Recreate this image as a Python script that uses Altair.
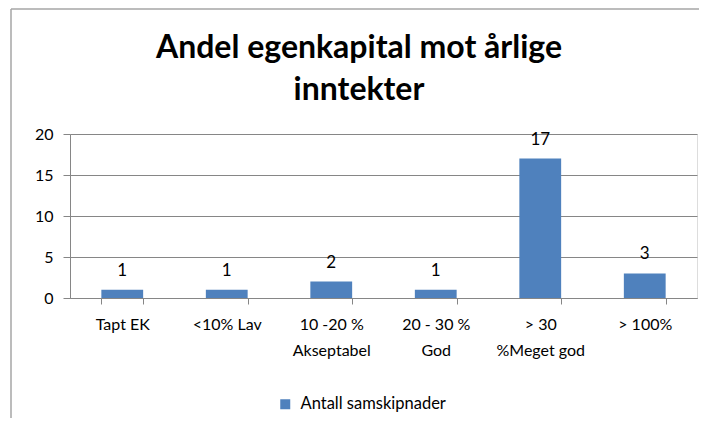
import altair as alt
import pandas as pd

categories = ["Tapt EK", "<10% Lav", "10 -20 %|Akseptabel", "20 - 30 %|God", "> 30|%Meget god", "> 100%"]
values = [1, 1, 2, 1, 17, 3]
series_name = "Antall samskipnader"
title_text = "Andel egenkapital mot årlige|inntekter"
y_ticks = [0, 5, 10, 15, 20]

df = pd.DataFrame({"kategori": categories, "antall": values, "serie": [series_name] * len(values)})

FONT = "Lato"
GRAY = "#868686"
BLUE = "#4F81BD"

x_enc = alt.X(
    "kategori:N",
    sort=categories,
    title=None,
    scale=alt.Scale(paddingInner=0.6, paddingOuter=0.3),
    axis=alt.Axis(
        labelAngle=0,
        labelExpr="split(datum.label, '|')",
        labelLineHeight=26,
        labelFontSize=16,
        labelFont=FONT,
        labelColor="black",
        labelPadding=12,
        labelBaseline="top",
        tickBand="extent",
        tickSize=6,
        tickColor=GRAY,
        domainColor=GRAY,
        grid=False,
    ),
)

y_enc = alt.Y(
    "antall:Q",
    title=None,
    scale=alt.Scale(domain=[0, 20], nice=False),
    axis=alt.Axis(
        values=y_ticks,
        labelFontSize=16,
        labelFont=FONT,
        labelColor="black",
        labelPadding=10,
        tickSize=7,
        tickColor=GRAY,
        domainColor=GRAY,
        gridColor=GRAY,
        grid=True,
    ),
)

bars = alt.Chart(df).mark_bar(color=BLUE).encode(
    x=x_enc,
    y=y_enc,
    color=alt.Color(
        "serie:N",
        scale=alt.Scale(range=[BLUE]),
        legend=alt.Legend(
            title=None,
            orient="none",
            legendX=207,
            legendY=262,
            padding=0,
            symbolType="square",
            symbolSize=100,
            symbolStrokeWidth=0,
            labelFontSize=16.5,
            labelFont=FONT,
            labelColor="black",
            labelOffset=7,
        ),
    ),
)

labels = alt.Chart(df).mark_text(
    dy=-14, baseline="alphabetic", fontSize=17, font=FONT, color="black"
).encode(x=alt.X("kategori:N", sort=categories), y="antall:Q", text="antall:Q")

title_df = pd.DataFrame({"t": [title_text]})
title_mark = alt.Chart(title_df).mark_text(
    lineBreak="|",
    lineHeight=42,
    fontSize=32,
    fontWeight="bold",
    font=FONT,
    color="black",
    align="center",
    baseline="alphabetic",
).encode(x=alt.value(289), y=alt.value(-76), text="t:N")

frame_df = pd.DataFrame({"k": [0]})
top_border = alt.Chart(frame_df).mark_rule(color="#A6A6A6", strokeWidth=1.5).encode(
    x=alt.value(-59), x2=alt.value(640), y=alt.value(-125)
)
left_border = alt.Chart(frame_df).mark_rule(color="#A6A6A6", strokeWidth=1.5).encode(
    x=alt.value(-59), y=alt.value(-125), y2=alt.value(300)
)

chart = (
    alt.layer(bars, labels, title_mark, top_border, left_border)
    .properties(
        width=627,
        height=164,
        autosize=alt.AutoSizeParams(type="none"),
        padding={"left": 62, "top": 126, "right": 2, "bottom": 120},
    )
    .configure_view(strokeOpacity=0)
    .configure(background="white")
)

chart.save("out.html", embed_options={"renderer": "svg", "actions": False})
